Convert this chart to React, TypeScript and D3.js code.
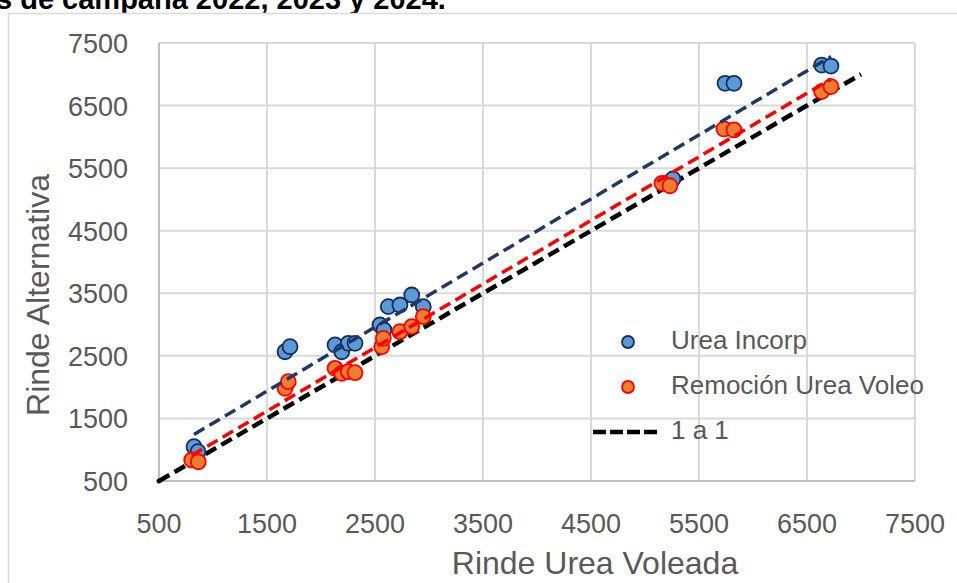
import React from "react";
import * as d3 from "d3";

// ---- Data ----
const ureaIncorpX = [824, 861, 1667, 1713, 2130, 2192, 2253, 2315, 2546, 2583, 2623, 2731, 2840, 2947, 5259, 5741, 5824, 6636, 6722];
const ureaIncorpY = [1048, 969, 2566, 2646, 2674, 2566, 2701, 2701, 2993, 2913, 3286, 3313, 3473, 3286, 5327, 6856, 6856, 7148, 7132];

const remocionX = [803, 864, 1667, 1697, 2130, 2192, 2253, 2315, 2562, 2577, 2731, 2840, 2947, 5157, 5231, 5731, 5824, 6636, 6722];
const remocionY = [836, 808, 1981, 2087, 2301, 2221, 2247, 2231, 2646, 2780, 2886, 2966, 3126, 5258, 5219, 6126, 6110, 6722, 6802];

// linear trend lines [slope, intercept]
const trendIncorp = [1.024, 400];
const trendRemocion = [1.016, 93];

// 1:1 reference line
const oneToOne = [500, 7000];

const axisTicks = [500, 1500, 2500, 3500, 4500, 5500, 6500, 7500];

const seriesNames = ["Urea Incorp", "Remoción Urea Voleo", "1 a 1"];
const titleText = "s de campaña 2022, 2023 y 2024.";
const xTitle = "Rinde Urea Voleada";
const yTitle = "Rinde Alternativa";

const W = 957;
const H = 583;
const plot = { left: 159, right: 915, top: 43, bottom: 481 };

const FONT = "'Liberation Sans', Arial, sans-serif";

export default function App() {
  const x = d3.scaleLinear().domain([500, 7500]).range([plot.left, plot.right]);
  const y = d3.scaleLinear().domain([500, 7500]).range([plot.bottom, plot.top]);

  const line = d3
    .line<[number, number]>()
    .x((d) => x(d[0]))
    .y((d) => y(d[1]));

  const blueExt = d3.extent(ureaIncorpX) as [number, number];
  const redExt = d3.extent(remocionX) as [number, number];
  const bluePts: [number, number][] = blueExt.map((v) => [v, trendIncorp[0] * v + trendIncorp[1]]);
  const redPts: [number, number][] = redExt.map((v) => [v, trendRemocion[0] * v + trendRemocion[1]]);
  const idPts: [number, number][] = oneToOne.map((v) => [v, v]);

  const blueFill = "#5B9BD5";
  const blueStroke = "#142E62";
  const orangeFill = "#ED7D31";
  const redStroke = "#FF0000";
  const navy = "#203864";
  const grid = "#D9D9D9";
  const tickColor = "#595959";

  return (
    <svg
      width={W}
      height={H}
      style={{ position: "absolute", left: 0, top: 0, background: "#fff" }}
      fontFamily={FONT}
    >
      <rect x={0} y={0} width={W} height={H} fill="#fff" />
      <text x={-4} y={9} fontSize={29} fontWeight="bold" fill="#000">
        {titleText}
      </text>
      {/* chart frame */}
      <rect x={8.5} y={13.5} width={W + 20} height={H + 20} fill="#fff" stroke={grid} strokeWidth={1.5} />

      {/* gridlines */}
      {axisTicks.map((t) => (
        <line key={"gx" + t} x1={x(t)} x2={x(t)} y1={plot.top} y2={plot.bottom} stroke={grid} strokeWidth={2} />
      ))}
      {axisTicks.map((t) => (
        <line key={"gy" + t} x1={plot.left} x2={plot.right} y1={y(t)} y2={y(t)} stroke={grid} strokeWidth={2} />
      ))}
      {/* axes */}
      <line x1={plot.left} x2={plot.left} y1={plot.top} y2={plot.bottom} stroke="#BFBFBF" strokeWidth={2} />
      <line x1={plot.left} x2={plot.right} y1={plot.bottom} y2={plot.bottom} stroke="#BFBFBF" strokeWidth={2} />

      {/* tick labels */}
      {axisTicks.map((t) => (
        <text key={"tx" + t} x={x(t)} y={plot.bottom + 52} fontSize={27} fill={tickColor} textAnchor="middle">
          {t}
        </text>
      ))}
      {axisTicks.map((t) => (
        <text key={"ty" + t} x={128} y={y(t) + 10} fontSize={27} fill={tickColor} textAnchor="end">
          {t}
        </text>
      ))}

      {/* axis titles */}
      <text x={595} y={574} fontSize={32} fill={tickColor} textAnchor="middle">
        {xTitle}
      </text>
      <text transform={`translate(49, 295) rotate(-90)`} fontSize={32} fill={tickColor} textAnchor="middle">
        {yTitle}
      </text>

      {/* 1:1 line */}
      <path d={line(idPts) || ""} fill="none" stroke="#000" strokeWidth={4.5} strokeDasharray="12 6" />
      <circle cx={x(oneToOne[0])} cy={y(oneToOne[0])} r={2.5} fill="#000" />

      {/* points */}
      {ureaIncorpX.map((v, i) => (
        <circle key={"b" + i} cx={x(v)} cy={y(ureaIncorpY[i])} r={7.5} fill={blueFill} stroke={blueStroke} strokeWidth={1.8} />
      ))}
      {remocionX.map((v, i) => (
        <circle key={"r" + i} cx={x(v)} cy={y(remocionY[i])} r={7.5} fill={orangeFill} stroke={redStroke} strokeWidth={1.8} />
      ))}

      {/* trend lines */}
      <path d={line(bluePts) || ""} fill="none" stroke={navy} strokeWidth={3.5} strokeDasharray="12 6" />
      <path d={line(redPts) || ""} fill="none" stroke={redStroke} strokeWidth={3.5} strokeDasharray="12 6" />

      {/* legend */}
      <circle cx={628} cy={342} r={6} fill={blueFill} stroke={blueStroke} strokeWidth={1.8} />
      <text x={671} y={349} fontSize={26} fill={tickColor}>
        {seriesNames[0]}
      </text>
      <circle cx={628} cy={387} r={6} fill={orangeFill} stroke={redStroke} strokeWidth={1.8} />
      <text x={671} y={394} fontSize={26} fill={tickColor}>
        {seriesNames[1]}
      </text>
      <line x1={593} x2={660} y1={432} y2={432} stroke="#000" strokeWidth={4.5} strokeDasharray="13 4" />
      <text x={671} y={439} fontSize={26} fill={tickColor}>
        {seriesNames[2]}
      </text>
    </svg>
  );
}
